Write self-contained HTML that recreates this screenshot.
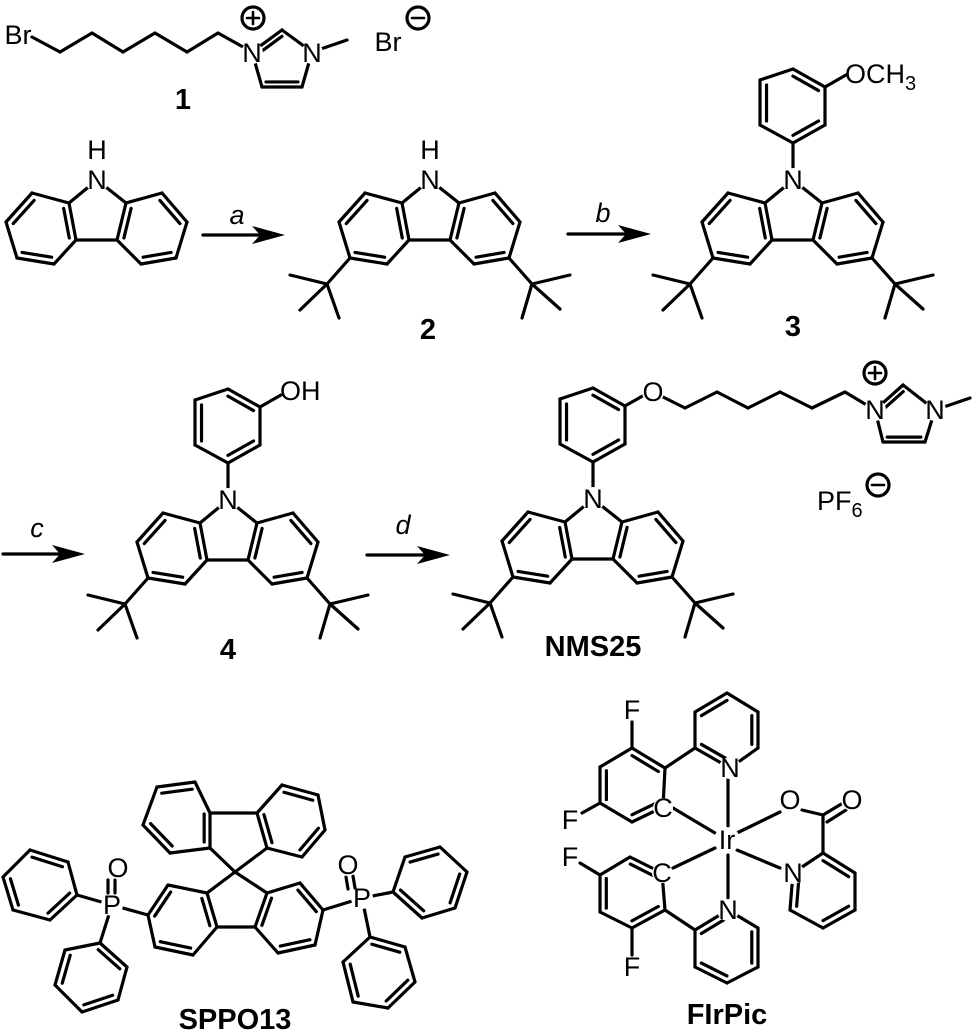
<!DOCTYPE html>
<html><head><meta charset="utf-8"><style>
html,body{margin:0;padding:0;background:#fff;}
svg{display:block;}
text{font-family:"Liberation Sans",sans-serif;fill:#000;}
.a{font-size:27px;text-anchor:middle;dominant-baseline:central;}
.l{font-size:29px;font-weight:bold;text-anchor:middle;dominant-baseline:central;}
.i{font-size:27px;font-style:italic;text-anchor:middle;dominant-baseline:central;}
.f{font-size:27px;}
</style></head><body>
<svg id="s" width="975" height="1034" viewBox="0 0 975 1034" xmlns="http://www.w3.org/2000/svg">
<g id="b" stroke="#000" stroke-width="3.2" fill="none" stroke-linecap="round" stroke-linejoin="round"></g>
<g id="m" fill="#fff"></g>
<g id="h" fill="#000"></g>
<g id="t">
<text class="a" x="18" y="35">Br</text>
<text class="a" x="252" y="53">N</text>
<text class="a" x="312" y="53">N</text>
<text class="a" x="388" y="42">Br</text>
<text class="l" x="183" y="100">1</text>
<text class="a" x="97" y="180">N</text>
<text class="a" x="97" y="150">H</text>
<text class="i" x="237" y="215">a</text>
<text class="a" x="430" y="180">N</text>
<text class="a" x="430" y="150">H</text>
<text class="l" x="428" y="330">2</text>
<text class="i" x="603" y="213">b</text>
<text class="a" x="793" y="180">N</text>
<text class="f" x="845" y="83">OCH<tspan dy="7" style="font-size:20px">3</tspan></text>
<text class="l" x="793" y="327">3</text>
<text class="i" x="37" y="528">c</text>
<text class="a" x="228" y="500">N</text>
<text class="f" x="280" y="400">OH</text>
<text class="l" x="228" y="650">4</text>
<text class="i" x="403" y="525">d</text>
<text class="a" x="593" y="499">N</text>
<text class="a" x="653" y="392">O</text>
<text class="a" x="875" y="410">N</text>
<text class="a" x="935" y="410">N</text>
<text class="f" x="817" y="510">PF<tspan dy="7" style="font-size:20px">6</tspan></text>
<text class="l" x="593" y="647">NMS25</text>
<text class="a" x="112" y="905">P</text>
<text class="a" x="118" y="868">O</text>
<text class="a" x="362" y="898">P</text>
<text class="a" x="348" y="865">O</text>
<text class="l" x="235" y="1020">SPPO13</text>
<text class="a" x="727" y="840">Ir</text>
<text class="a" x="730" y="768">N</text>
<text class="a" x="663" y="808">C</text>
<text class="a" x="632" y="710">F</text>
<text class="a" x="570" y="820">F</text>
<text class="a" x="662" y="873">C</text>
<text class="a" x="570" y="857">F</text>
<text class="a" x="632" y="967">F</text>
<text class="a" x="728" y="910">N</text>
<text class="a" x="790" y="800">O</text>
<text class="a" x="852" y="800">O</text>
<text class="a" x="793" y="873">N</text>
<text class="l" x="727" y="1015">FIrPic</text>
</g>
</svg>
<script>
var NS="http://www.w3.org/2000/svg";
var B=document.getElementById('b'),M=document.getElementById('m'),H=document.getElementById('h');
function L(x1,y1,x2,y2,sw){var e=document.createElementNS(NS,'line');e.setAttribute('x1',x1);e.setAttribute('y1',y1);e.setAttribute('x2',x2);e.setAttribute('y2',y2);if(sw)e.setAttribute('stroke-width',sw);B.appendChild(e);}
function P(pts,dx,dy){dx=dx||0;dy=dy||0;for(var i=0;i<pts.length-1;i++)L(pts[i][0]+dx,pts[i][1]+dy,pts[i+1][0]+dx,pts[i+1][1]+dy);}
function R(pts,dbl,dx,dy){dx=dx||0;dy=dy||0;var n=pts.length,cx=0,cy=0;pts=pts.map(function(p){return[p[0]+dx,p[1]+dy]});
pts.forEach(function(p){cx+=p[0];cy+=p[1]});cx/=n;cy/=n;
for(var i=0;i<n;i++){var a=pts[i],b=pts[(i+1)%n];L(a[0],a[1],b[0],b[1]);}
dbl.forEach(function(i){var a=pts[i],b=pts[(i+1)%n],f=0.2;
var ax=a[0]+(cx-a[0])*f,ay=a[1]+(cy-a[1])*f,bx=b[0]+(cx-b[0])*f,by=b[1]+(cy-b[1])*f;L(ax,ay,bx,by);});}
function C(x,y,r){var e=document.createElementNS(NS,'circle');e.setAttribute('cx',x);e.setAttribute('cy',y);e.setAttribute('r',r);M.appendChild(e);}
function charge(x,y,plus){var e=document.createElementNS(NS,'circle');e.setAttribute('cx',x);e.setAttribute('cy',y);e.setAttribute('r',11);e.setAttribute('fill','#fff');B.appendChild(e);
L(x-6,y,x+6,y,2.6);if(plus)L(x,y-6,x,y+6,2.6);}
function arrow(x1,x2,y){L(x1,y,x2-20,y);var e=document.createElementNS(NS,'polygon');
e.setAttribute('points',(x2)+','+y+' '+(x2-33)+','+(y-9)+' '+(x2-25)+','+y+' '+(x2-33)+','+(y+9));H.appendChild(e);}
function carb(dx,dy,tbu,ph){
 R([[200,523],[163,513],[137,542],[148,578],[185,584],[207,560]],[1,3,5],dx,dy);
 R([[257,523],[293,513],[318,542],[307,578],[272,584],[248,560]],[1,3,5],dx,dy);
 P([[200,523],[228,500],[257,523]],dx,dy);P([[207,560],[248,560]],dx,dy);
 if(tbu){P([[148,578],[125,604]],dx,dy);P([[88,595],[125,604],[98,630]],dx,dy);P([[125,604],[137,638]],dx,dy);
  P([[307,578],[330,604]],dx,dy);P([[368,595],[330,604],[358,629]],dx,dy);P([[330,604],[320,638]],dx,dy);}
 if(ph){P([[228,500],[228,463]],dx,dy);R([[228,463],[195,445],[195,400],[228,389],[260,407],[260,445]],[1,3,5],dx,dy);
  P([[260,407],[281,395]],dx,dy);}
 C(228+dx,500+dy,12);
}
P([[32,37],[60,52],[92,33],[123,52],[155,33],[187,52],[218,33],[252,52]]);
R([[252,52],[282,30],[312,52],[302,87],[262,87]],[0,3]);P([[312,52],[347,40]]);
C(252,53,11);C(312,53,11);
charge(253,18,true);charge(418,18,false);
carb(-131,-320,false,false);
arrow(203,285,235);
carb(202,-320,true,false);
arrow(568,651,234);
carb(565,-320,true,true);
arrow(3,85,554);
carb(0,0,true,true);
arrow(367,450,555);
carb(365,-1,true,true);
C(653,392,11);
P([[653,392],[685,408],[717,392],[748,408],[780,392],[812,408],[845,392],[875,410]]);
R([[875,410],[903,385],[935,410],[925,442],[883,442]],[0,3]);P([[935,410],[970,398]]);
C(875,410,11);C(935,410,11);
charge(875,373,true);charge(878,485,false);
var d=[1,3,5];
R([[210,848],[170,853],[143,825],[157,787],[195,782],[210,813]],d);
R([[257,813],[282,785],[318,795],[325,830],[302,857],[267,848]],d);
P([[210,848],[235,872],[267,848]]);P([[210,813],[257,813]]);
R([[207,893],[168,885],[148,915],[155,947],[193,955],[217,927]],d);
R([[267,893],[300,883],[323,910],[315,945],[278,953],[255,927]],d);
P([[207,893],[235,872],[267,893]]);P([[217,927],[255,927]]);
P([[112,905],[148,915]]);P([[112,905],[77,895]]);P([[112,905],[100,943]]);
R([[77,895],[68,862],[30,850],[3,877],[13,910],[50,920]],d);
R([[100,943],[65,950],[55,985],[82,1012],[118,1000],[127,967]],d);
L(108,880,108,893);L(115,880,115,893);
P([[362,898],[323,910]]);P([[362,898],[393,892]]);P([[362,898],[370,937]]);
R([[393,892],[405,857],[440,847],[467,872],[455,908],[422,918]],d);
R([[370,937],[343,962],[353,1002],[388,1008],[415,982],[405,947]],d);
L(353,876,355,888);L(346,877,348,889);
C(112,905,11);C(362,898,11);C(118,868,11);C(348,865,11);
var e3=[0,2,4];
R([[730,768],[695,748],[695,712],[727,693],[758,712],[758,748]],e3);
R([[665,768],[632,748],[600,767],[600,803],[632,822],[663,807]],e3);
P([[695,748],[665,768]]);P([[632,748],[632,722]]);P([[600,803],[582,813]]);
R([[662,873],[630,857],[600,875],[600,912],[632,928],[665,910]],e3);
R([[728,910],[695,930],[695,967],[727,983],[758,967],[758,928]],e3);
P([[695,930],[665,910]]);P([[600,875],[580,863]]);P([[632,928],[632,955]]);
P([[728,777],[728,828]]);P([[728,855],[728,898]]);
P([[673,808],[715,833]]);P([[673,868],[715,848]]);
P([[737,833],[780,812]]);P([[737,850],[780,868]]);
P([[802,810],[823,815],[823,853]]);L(823,815,843,803);L(827,822,846,810);
R([[823,853],[793,873],[790,910],[823,928],[855,910],[855,873]],[1,3,5]);
[[727,840,13],[730,768,11],[663,808,10],[662,873,10],[728,910,11],[790,800,11],[852,800,11],[793,873,11]].forEach(function(c){C(c[0],c[1],c[2]);});
</script>
</body></html>
